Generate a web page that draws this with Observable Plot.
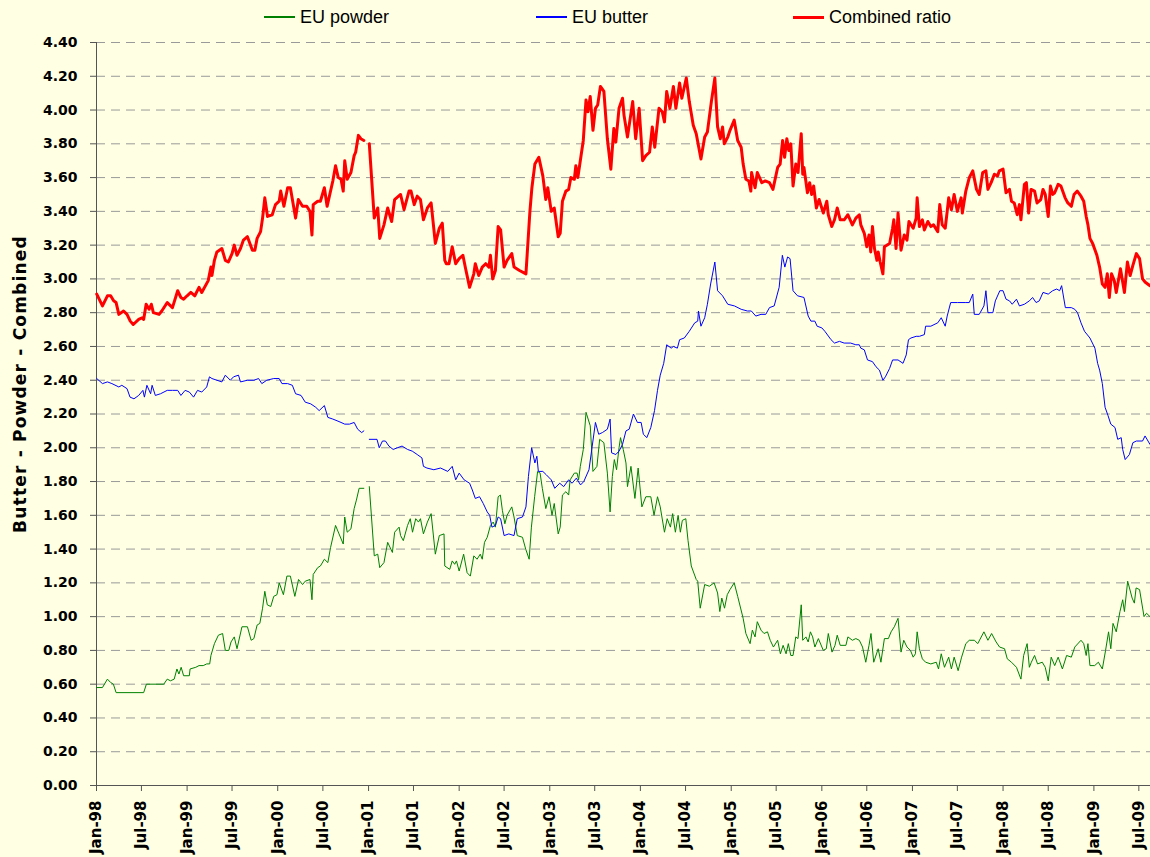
<!DOCTYPE html>
<html><head><meta charset="utf-8">
<script src="https://cdn.jsdelivr.net/npm/d3@7"></script>
<script src="https://cdn.jsdelivr.net/npm/@observablehq/plot@0.6"></script>
<style>
body{margin:0;background:#FFFFE3;width:1150px;height:857px;overflow:hidden;font-family:"Liberation Sans",Arial,sans-serif}
#legend{position:relative;height:34px}
.item{position:absolute;top:7px;font-size:18px;line-height:20px;display:flex;align-items:center;color:#000;white-space:nowrap}
.swatch{display:inline-block;width:31px;margin-right:5px}
#chart svg{display:block}
#chart g[aria-label="text"] text{letter-spacing:1.2px}
</style></head><body>
<div id="legend"></div><div id="chart"></div>
<script>
const seriesNames = ["EU powder", "EU butter", "Combined ratio"];
const seriesColors = ["#008000", "#0000FF", "#FF0000"];
const seriesWidths = [1, 1, 3];
const yTicks = [0.00,0.20,0.40,0.60,0.80,1.00,1.20,1.40,1.60,1.80,2.00,2.20,2.40,2.60,2.80,3.00,3.20,3.40,3.60,3.80,4.00,4.20,4.40];
const xTickLabels = ["Jan-98","Jul-98","Jan-99","Jul-99","Jan-00","Jul-00","Jan-01","Jul-01","Jan-02","Jul-02","Jan-03","Jul-03","Jan-04","Jul-04","Jan-05","Jul-05","Jan-06","Jul-06","Jan-07","Jul-07","Jan-08","Jul-08","Jan-09","Jul-09"];
const xDomain = ["1998-01-01", "2009-08-17"];
const yAxisTitle = "Butter - Powder - Combined";

const combined = [
["1998-01-02",2.91],["1998-01-25",2.84],["1998-02-14",2.90],["1998-02-27",2.90],["1998-03-11",2.87],["1998-03-21",2.86],["1998-04-01",2.79],["1998-04-20",2.81],["1998-05-04",2.79],["1998-05-17",2.75],["1998-05-29",2.73],["1998-06-20",2.76],["1998-07-04",2.77],["1998-07-10",2.76],["1998-07-20",2.85],["1998-08-01",2.82],["1998-08-10",2.85],["1998-08-18",2.80],["1998-09-10",2.79],["1998-09-21",2.81],["1998-10-13",2.86],["1998-11-03",2.83],["1998-11-24",2.93],["1998-12-07",2.89],["1998-12-18",2.88],
["1999-01-01",2.90],["1999-01-16",2.92],["1999-02-01",2.90],["1999-02-18",2.95],["1999-03-01",2.92],["1999-03-27",2.99],["1999-04-07",3.07],["1999-04-11",3.02],["1999-04-21",3.11],["1999-05-01",3.16],["1999-05-21",3.18],["1999-06-04",3.11],["1999-06-16",3.10],["1999-07-01",3.15],["1999-07-10",3.20],["1999-07-21",3.14],["1999-08-04",3.18],["1999-08-16",3.23],["1999-09-01",3.25],["1999-09-21",3.17],["1999-10-01",3.17],["1999-10-10",3.24],["1999-10-24",3.28],["1999-11-01",3.36],["1999-11-10",3.48],["1999-11-21",3.37],["1999-12-10",3.38],["1999-12-23",3.44],
["2000-01-07",3.46],["2000-01-13",3.52],["2000-01-26",3.43],["2000-02-10",3.54],["2000-02-21",3.54],["2000-03-13",3.36],["2000-03-24",3.47],["2000-04-10",3.43],["2000-04-27",3.43],["2000-05-10",3.40],["2000-05-18",3.26],["2000-05-23",3.44],["2000-06-10",3.46],["2000-06-21",3.46],["2000-07-07",3.54],["2000-07-18",3.43],["2000-08-10",3.58],["2000-08-21",3.67],["2000-09-01",3.60],["2000-09-12",3.59],["2000-09-21",3.52],["2000-09-27",3.70],["2000-10-07",3.59],["2000-10-22",3.63],["2000-11-04",3.73],["2000-11-10",3.75],["2000-11-21",3.85],["2000-12-01",3.83],["2000-12-13",3.82],["2000-12-25",null],
["2001-01-04",3.80],["2001-01-24",3.36],["2001-02-07",3.42],["2001-02-15",3.24],["2001-03-04",3.32],["2001-03-19",3.42],["2001-04-04",3.34],["2001-04-16",3.47],["2001-05-10",3.50],["2001-05-24",3.41],["2001-06-13",3.52],["2001-06-21",3.52],["2001-07-04",3.44],["2001-07-16",3.49],["2001-07-29",3.47],["2001-08-10",3.35],["2001-08-26",3.42],["2001-09-10",3.45],["2001-09-27",3.21],["2001-10-13",3.30],["2001-10-25",3.33],["2001-11-04",3.11],["2001-11-10",3.09],["2001-11-21",3.09],["2001-12-04",3.19],["2001-12-18",3.09],
["2002-01-01",3.12],["2002-01-16",3.14],["2002-01-27",3.06],["2002-02-12",2.95],["2002-03-01",3.03],["2002-03-07",3.09],["2002-03-21",3.02],["2002-04-04",3.07],["2002-04-18",3.09],["2002-05-01",3.07],["2002-05-07",3.14],["2002-05-16",3.00],["2002-05-27",3.05],["2002-06-07",3.31],["2002-06-17",3.29],["2002-07-01",3.07],["2002-07-13",3.11],["2002-08-01",3.15],["2002-08-10",3.07],["2002-09-01",3.05],["2002-09-27",3.03],["2002-10-13",3.40],["2002-10-21",3.54],["2002-11-02",3.68],["2002-11-18",3.72],["2002-12-04",3.61],["2002-12-16",3.47],["2002-12-24",3.54],
["2003-01-07",3.40],["2003-01-19",3.42],["2003-02-04",3.25],["2003-02-12",3.27],["2003-02-21",3.46],["2003-03-07",3.52],["2003-03-18",3.53],["2003-03-27",3.60],["2003-04-10",3.59],["2003-04-16",3.67],["2003-04-24",3.60],["2003-05-04",3.70],["2003-05-16",3.82],["2003-05-27",4.06],["2003-06-04",3.99],["2003-06-13",4.08],["2003-06-24",3.88],["2003-07-04",4.01],["2003-07-13",4.03],["2003-07-24",4.14],["2003-08-07",4.11],["2003-08-21",3.83],["2003-09-04",3.65],["2003-09-16",3.89],["2003-09-24",3.81],["2003-10-07",4.01],["2003-10-21",4.07],["2003-10-27",3.97],["2003-11-10",3.84],["2003-12-01",4.05],["2003-12-13",3.83],["2003-12-27",4.01],
["2004-01-10",3.70],["2004-01-23",3.73],["2004-02-07",3.75],["2004-02-18",3.90],["2004-02-28",3.78],["2004-03-16",4.01],["2004-03-29",3.99],["2004-04-07",3.93],["2004-04-16",4.11],["2004-04-29",4.01],["2004-05-13",4.14],["2004-05-23",4.01],["2004-06-07",4.16],["2004-06-16",4.07],["2004-07-04",4.19],["2004-07-16",4.05],["2004-08-01",3.91],["2004-08-13",3.86],["2004-09-01",3.71],["2004-09-16",3.84],["2004-09-27",3.87],["2004-10-13",4.05],["2004-10-27",4.19],["2004-11-07",3.90],["2004-11-18",3.83],["2004-11-27",3.90],["2004-12-04",3.80],["2004-12-18",3.84],["2004-12-27",3.88],
["2005-01-13",3.94],["2005-01-27",3.82],["2005-02-10",3.78],["2005-02-18",3.68],["2005-03-01",3.59],["2005-03-13",3.58],["2005-03-21",3.52],["2005-03-24",3.63],["2005-04-07",3.54],["2005-04-16",3.63],["2005-05-04",3.57],["2005-05-18",3.58],["2005-06-04",3.57],["2005-06-18",3.53],["2005-07-07",3.66],["2005-07-17",3.68],["2005-07-27",3.82],["2005-08-04",3.72],["2005-08-13",3.83],["2005-08-21",3.76],["2005-08-29",3.80],["2005-09-07",3.55],["2005-09-18",3.68],["2005-09-27",3.63],["2005-10-10",3.86],["2005-10-16",3.62],["2005-10-21",3.66],["2005-11-04",3.51],["2005-11-13",3.57],["2005-11-21",3.50],["2005-11-29",3.55],["2005-12-10",3.42],["2005-12-21",3.47],
["2006-01-07",3.39],["2006-01-21",3.46],["2006-01-27",3.38],["2006-02-10",3.31],["2006-02-21",3.35],["2006-03-04",3.42],["2006-03-16",3.35],["2006-04-01",3.35],["2006-04-16",3.38],["2006-05-04",3.32],["2006-05-18",3.36],["2006-06-01",3.38],["2006-06-07",3.32],["2006-06-21",3.27],["2006-07-01",3.19],["2006-07-10",3.26],["2006-07-17",3.16],["2006-07-24",3.31],["2006-08-01",3.18],["2006-08-11",3.11],["2006-08-16",3.16],["2006-08-24",3.10],["2006-09-04",3.03],["2006-09-10",3.19],["2006-10-01",3.21],["2006-10-13",3.30],["2006-10-18",3.35],["2006-10-27",3.18],["2006-11-04",3.39],["2006-11-16",3.17],["2006-11-29",3.26],["2006-12-10",3.23],["2006-12-18",3.34],
["2007-01-04",3.30],["2007-01-16",3.36],["2007-01-20",3.48],["2007-01-29",3.31],["2007-02-10",3.35],["2007-02-18",3.29],["2007-03-04",3.34],["2007-03-16",3.31],["2007-03-27",3.32],["2007-04-13",3.28],["2007-04-21",3.44],["2007-05-01",3.32],["2007-05-13",3.30],["2007-05-21",3.40],["2007-05-27",3.48],["2007-06-07",3.41],["2007-06-18",3.50],["2007-07-01",3.40],["2007-07-16",3.48],["2007-07-21",3.39],["2007-08-04",3.52],["2007-08-18",3.60],["2007-09-01",3.64],["2007-09-16",3.53],["2007-09-27",3.50],["2007-10-11",3.63],["2007-10-24",3.64],["2007-11-01",3.53],["2007-11-14",3.57],["2007-11-27",3.62],["2007-12-10",3.61],["2007-12-17",3.64],
["2008-01-01",3.65],["2008-01-13",3.51],["2008-01-27",3.53],["2008-02-04",3.46],["2008-02-15",3.45],["2008-02-27",3.38],["2008-03-07",3.44],["2008-03-13",3.35],["2008-03-27",3.56],["2008-04-04",3.57],["2008-04-13",3.39],["2008-04-23",3.53],["2008-05-07",3.52],["2008-05-17",3.45],["2008-06-01",3.47],["2008-06-10",3.53],["2008-06-19",3.50],["2008-07-01",3.37],["2008-07-10",3.55],["2008-07-19",3.50],["2008-07-27",3.51],["2008-08-10",3.56],["2008-08-21",3.55],["2008-09-07",3.48],["2008-09-18",3.45],["2008-10-02",3.43],["2008-10-13",3.50],["2008-10-26",3.52],["2008-11-10",3.49],["2008-11-21",3.46],["2008-12-01",3.37],["2008-12-08",3.32],["2008-12-16",3.24],["2008-12-27",3.21],
["2009-01-13",3.14],["2009-01-24",3.07],["2009-02-04",2.97],["2009-02-15",2.95],["2009-02-24",3.03],["2009-03-04",2.89],["2009-03-13",3.03],["2009-03-24",2.99],["2009-04-01",2.92],["2009-04-18",3.06],["2009-05-04",2.92],["2009-05-16",3.10],["2009-05-27",3.02],["2009-06-07",3.08],["2009-06-21",3.15],["2009-07-04",3.12],["2009-07-16",3.00],["2009-07-27",2.98],["2009-08-15",2.96]
];

const butter = [
["1998-01-02",2.41],["1998-01-25",2.38],["1998-02-14",2.39],["1998-03-04",2.38],["1998-04-01",2.36],["1998-04-13",2.37],["1998-05-04",2.35],["1998-05-16",2.30],["1998-06-01",2.29],["1998-06-20",2.31],["1998-07-07",2.34],["1998-07-13",2.30],["1998-07-23",2.37],["1998-08-07",2.32],["1998-08-13",2.37],["1998-08-26",2.31],["1998-09-16",2.32],["1998-10-13",2.34],["1998-11-03",2.34],["1998-11-24",2.34],["1998-12-07",2.31],["1998-12-24",2.34],
["1999-01-10",2.33],["1999-01-27",2.30],["1999-02-12",2.34],["1999-03-01",2.33],["1999-03-21",2.36],["1999-04-01",2.42],["1999-04-11",2.41],["1999-05-01",2.40],["1999-05-21",2.39],["1999-06-04",2.43],["1999-06-24",2.40],["1999-07-07",2.42],["1999-07-27",2.43],["1999-08-04",2.39],["1999-09-01",2.40],["1999-09-27",2.40],["1999-10-16",2.41],["1999-10-29",2.38],["1999-11-18",2.40],["1999-12-16",2.41],
["2000-01-07",2.41],["2000-01-18",2.38],["2000-02-10",2.38],["2000-02-29",2.37],["2000-03-13",2.32],["2000-04-04",2.31],["2000-04-21",2.27],["2000-05-13",2.26],["2000-06-02",2.24],["2000-06-16",2.22],["2000-07-07",2.25],["2000-07-21",2.18],["2000-08-10",2.17],["2000-08-27",2.16],["2000-09-12",2.15],["2000-09-27",2.14],["2000-10-16",2.14],["2000-11-04",2.15],["2000-11-18",2.11],["2000-12-04",2.09],["2000-12-13",2.10],["2000-12-25",null],
["2001-01-04",2.05],["2001-02-04",2.05],["2001-02-13",2.00],["2001-02-26",2.04],["2001-03-10",2.04],["2001-03-24",2.01],["2001-04-10",1.99],["2001-04-27",2.00],["2001-05-16",2.01],["2001-06-07",1.99],["2001-06-26",1.98],["2001-07-16",1.96],["2001-08-04",1.94],["2001-08-10",1.89],["2001-08-24",1.88],["2001-09-21",1.87],["2001-10-18",1.88],["2001-11-16",1.86],["2001-12-04",1.89],["2001-12-18",1.81],
["2002-01-01",1.85],["2002-01-21",1.81],["2002-02-12",1.79],["2002-02-23",1.75],["2002-03-07",1.70],["2002-03-24",1.71],["2002-04-08",1.67],["2002-04-24",1.62],["2002-05-04",1.60],["2002-05-13",1.53],["2002-05-27",1.54],["2002-06-07",1.59],["2002-06-17",1.58],["2002-07-01",1.48],["2002-07-20",1.49],["2002-08-10",1.48],["2002-08-23",1.58],["2002-09-13",1.59],["2002-09-27",1.65],["2002-10-07",1.83],["2002-10-20",2.00],["2002-11-02",1.91],["2002-11-10",1.95],["2002-11-16",1.86],["2002-12-04",1.86],["2002-12-18",1.84],
["2003-01-07",1.81],["2003-01-21",1.76],["2003-02-10",1.79],["2003-02-26",1.77],["2003-03-18",1.81],["2003-04-01",1.79],["2003-04-18",1.82],["2003-05-05",1.78],["2003-05-18",1.80],["2003-06-08",1.87],["2003-06-21",2.01],["2003-07-04",2.15],["2003-07-17",2.08],["2003-08-01",2.09],["2003-08-21",2.11],["2003-09-01",2.17],["2003-09-07",1.97],["2003-09-24",1.96],["2003-10-07",1.98],["2003-10-21",2.02],["2003-11-04",2.10],["2003-11-17",2.11],["2003-12-04",2.20],["2003-12-20",2.15],
["2004-01-04",2.15],["2004-01-13",2.08],["2004-01-27",2.06],["2004-02-12",2.12],["2004-02-27",2.22],["2004-03-10",2.34],["2004-03-21",2.43],["2004-04-04",2.50],["2004-04-16",2.61],["2004-05-04",2.59],["2004-05-13",2.60],["2004-05-29",2.59],["2004-06-07",2.64],["2004-06-26",2.65],["2004-07-16",2.69],["2004-08-07",2.74],["2004-08-19",2.75],["2004-08-22",2.81],["2004-09-01",2.72],["2004-09-16",2.77],["2004-09-27",2.85],["2004-10-10",2.97],["2004-10-27",3.10],["2004-11-07",2.93],["2004-11-27",2.90],["2004-12-18",2.85],
["2005-01-14",2.84],["2005-02-10",2.82],["2005-03-07",2.81],["2005-03-23",2.81],["2005-04-10",2.78],["2005-05-01",2.79],["2005-05-20",2.79],["2005-06-04",2.83],["2005-06-23",2.84],["2005-07-13",2.95],["2005-07-26",3.14],["2005-08-05",3.07],["2005-08-16",3.13],["2005-08-26",3.12],["2005-09-07",2.93],["2005-09-25",2.90],["2005-10-21",2.89],["2005-11-07",2.78],["2005-11-18",2.75],["2005-12-04",2.75],["2005-12-13",2.72],
["2006-01-01",2.71],["2006-01-13",2.69],["2006-02-07",2.64],["2006-02-21",2.62],["2006-03-13",2.63],["2006-04-01",2.62],["2006-04-27",2.62],["2006-05-18",2.61],["2006-06-01",2.61],["2006-06-07",2.59],["2006-06-21",2.58],["2006-07-04",2.52],["2006-07-24",2.51],["2006-08-07",2.48],["2006-08-21",2.46],["2006-09-04",2.40],["2006-09-14",2.42],["2006-10-01",2.47],["2006-10-13",2.52],["2006-11-04",2.52],["2006-11-24",2.50],["2006-12-07",2.55],["2006-12-16",2.64],["2006-12-26",2.65],
["2007-01-16",2.66],["2007-01-29",2.66],["2007-02-18",2.67],["2007-02-23",2.72],["2007-03-16",2.72],["2007-04-13",2.74],["2007-04-27",2.77],["2007-05-13",2.72],["2007-05-21",2.78],["2007-06-04",2.86],["2007-07-01",2.86],["2007-08-04",2.86],["2007-08-18",2.86],["2007-09-01",2.91],["2007-09-07",2.79],["2007-09-27",2.79],["2007-10-16",2.84],["2007-10-24",2.93],["2007-11-01",2.80],["2007-11-21",2.80],["2007-12-01",2.87],["2007-12-19",2.93],
["2008-01-01",2.93],["2008-01-13",2.88],["2008-01-27",2.87],["2008-02-07",2.85],["2008-02-24",2.88],["2008-03-07",2.84],["2008-03-27",2.85],["2008-04-16",2.87],["2008-04-29",2.89],["2008-05-13",2.86],["2008-05-26",2.87],["2008-06-10",2.92],["2008-07-01",2.91],["2008-07-19",2.93],["2008-08-04",2.94],["2008-08-16",2.93],["2008-08-24",2.96],["2008-09-08",2.83],["2008-10-02",2.83],["2008-10-16",2.82],["2008-10-27",2.80],["2008-11-10",2.74],["2008-11-24",2.69],["2008-12-16",2.65],
["2009-01-05",2.59],["2009-01-16",2.50],["2009-01-24",2.46],["2009-02-04",2.38],["2009-02-15",2.24],["2009-02-27",2.19],["2009-03-10",2.14],["2009-03-27",2.12],["2009-04-07",2.05],["2009-04-21",2.06],["2009-04-27",1.99],["2009-05-07",1.93],["2009-05-24",1.96],["2009-06-07",2.03],["2009-06-21",2.04],["2009-07-16",2.04],["2009-07-26",2.07],["2009-08-07",2.04],["2009-08-15",2.02]
];

const powder = [
["1998-01-02",0.58],["1998-01-25",0.58],["1998-02-14",0.63],["1998-02-27",0.61],["1998-03-10",0.60],["1998-03-21",0.55],["1998-07-10",0.55],["1998-07-21",0.60],["1998-09-29",0.60],["1998-10-13",0.63],["1998-10-26",0.62],["1998-11-10",0.63],["1998-11-21",0.69],["1998-11-29",0.66],["1998-12-08",0.70],["1998-12-18",0.65],
["1999-01-10",0.65],["1999-01-13",0.69],["1999-02-05",0.70],["1999-02-18",0.71],["1999-03-07",0.71],["1999-03-21",0.72],["1999-04-02",0.72],["1999-04-07",0.77],["1999-04-21",0.84],["1999-05-07",0.89],["1999-05-24",0.90],["1999-06-04",0.80],["1999-06-18",0.80],["1999-06-27",0.85],["1999-07-10",0.88],["1999-07-21",0.81],["1999-08-10",0.94],["1999-09-01",0.94],["1999-09-16",0.86],["1999-09-27",0.87],["1999-10-10",0.95],["1999-10-21",0.96],["1999-11-01",1.05],["1999-11-10",1.15],["1999-11-20",1.07],["1999-12-04",1.06],["1999-12-16",1.12],["1999-12-29",1.13],
["2000-01-07",1.20],["2000-01-24",1.13],["2000-02-07",1.24],["2000-02-21",1.24],["2000-03-10",1.12],["2000-03-25",1.22],["2000-04-10",1.19],["2000-04-21",1.21],["2000-05-10",1.22],["2000-05-18",1.10],["2000-05-23",1.25],["2000-06-10",1.29],["2000-06-21",1.30],["2000-07-07",1.34],["2000-07-21",1.32],["2000-08-01",1.41],["2000-08-21",1.54],["2000-09-04",1.49],["2000-09-21",1.43],["2000-09-27",1.59],["2000-10-07",1.50],["2000-10-22",1.52],["2000-11-04",1.64],["2000-11-13",1.69],["2000-11-24",1.76],["2000-12-13",1.76],["2000-12-25",null],
["2001-01-04",1.77],["2001-01-24",1.36],["2001-02-07",1.37],["2001-02-15",1.29],["2001-03-04",1.32],["2001-03-19",1.44],["2001-04-07",1.38],["2001-04-16",1.50],["2001-05-04",1.53],["2001-05-10",1.48],["2001-05-21",1.45],["2001-06-07",1.54],["2001-06-18",1.58],["2001-06-27",1.50],["2001-07-10",1.58],["2001-07-21",1.56],["2001-07-29",1.58],["2001-08-10",1.49],["2001-08-26",1.56],["2001-09-10",1.61],["2001-09-27",1.37],["2001-10-13",1.48],["2001-11-01",1.49],["2001-11-04",1.30],["2001-11-24",1.28],["2001-12-04",1.33],["2001-12-14",1.31],["2001-12-21",1.33],
["2002-01-01",1.27],["2002-01-19",1.37],["2002-02-02",1.26],["2002-02-15",1.24],["2002-03-01",1.36],["2002-03-14",1.34],["2002-03-27",1.37],["2002-04-04",1.34],["2002-04-13",1.44],["2002-04-24",1.47],["2002-05-07",1.54],["2002-05-18",1.56],["2002-05-27",1.53],["2002-06-07",1.71],["2002-06-16",1.72],["2002-06-24",1.63],["2002-07-04",1.55],["2002-07-13",1.60],["2002-08-01",1.65],["2002-08-10",1.59],["2002-08-23",1.48],["2002-09-13",1.47],["2002-09-26",1.40],["2002-10-10",1.34],["2002-10-19",1.53],["2002-11-01",1.71],["2002-11-13",1.86],["2002-11-23",1.85],["2002-12-02",1.76],["2002-12-16",1.64],["2002-12-29",1.71],
["2003-01-10",1.60],["2003-01-19",1.67],["2003-02-04",1.49],["2003-02-12",1.53],["2003-02-21",1.72],["2003-03-07",1.74],["2003-03-18",1.72],["2003-03-24",1.81],["2003-04-10",1.85],["2003-04-21",1.85],["2003-04-27",1.81],["2003-05-04",1.89],["2003-05-16",1.99],["2003-05-27",2.21],["2003-06-13",2.13],["2003-06-24",1.86],["2003-07-10",1.89],["2003-07-21",2.05],["2003-08-07",2.03],["2003-08-21",1.85],["2003-09-01",1.62],["2003-09-10",1.83],["2003-09-18",1.93],["2003-09-27",1.87],["2003-10-07",2.00],["2003-10-13",2.06],["2003-10-24",1.99],["2003-11-04",1.91],["2003-11-10",1.77],["2003-11-24",1.89],["2003-12-10",1.70],["2003-12-23",1.88],
["2004-01-07",1.65],["2004-01-23",1.71],["2004-02-12",1.71],["2004-02-25",1.60],["2004-03-10",1.71],["2004-03-21",1.65],["2004-04-07",1.50],["2004-04-18",1.58],["2004-05-01",1.53],["2004-05-10",1.61],["2004-05-21",1.50],["2004-06-01",1.60],["2004-06-10",1.50],["2004-06-18",1.57],["2004-07-02",1.58],["2004-07-11",1.45],["2004-07-24",1.30],["2004-08-13",1.22],["2004-08-19",1.21],["2004-08-29",1.05],["2004-09-16",1.19],["2004-10-05",1.18],["2004-10-24",1.20],["2004-11-07",1.14],["2004-11-16",1.03],["2004-11-24",1.11],["2004-12-05",1.05],["2004-12-16",1.13],["2004-12-27",1.16],
["2005-01-13",1.20],["2005-01-27",1.12],["2005-02-18",0.99],["2005-03-01",0.90],["2005-03-18",0.84],["2005-03-27",0.92],["2005-04-07",0.88],["2005-04-16",0.97],["2005-05-01",0.92],["2005-05-13",0.90],["2005-05-27",0.91],["2005-06-07",0.86],["2005-06-20",0.82],["2005-07-07",0.86],["2005-07-18",0.78],["2005-07-29",0.83],["2005-08-10",0.78],["2005-08-19",0.84],["2005-08-29",0.77],["2005-09-07",0.77],["2005-09-18",0.88],["2005-09-27",0.87],["2005-10-10",1.07],["2005-10-16",0.86],["2005-10-29",0.88],["2005-11-07",0.85],["2005-11-16",0.91],["2005-11-25",0.88],["2005-12-04",0.82],["2005-12-18",0.87],
["2006-01-07",0.80],["2006-01-19",0.81],["2006-01-27",0.90],["2006-02-11",0.79],["2006-02-23",0.83],["2006-03-04",0.89],["2006-03-16",0.83],["2006-04-08",0.83],["2006-04-16",0.88],["2006-05-04",0.86],["2006-05-18",0.87],["2006-06-01",0.86],["2006-06-14",0.82],["2006-06-27",0.73],["2006-07-10",0.83],["2006-07-18",0.90],["2006-07-29",0.73],["2006-08-16",0.81],["2006-08-27",0.73],["2006-09-10",0.87],["2006-09-26",0.87],["2006-10-07",0.91],["2006-10-20",0.94],["2006-11-04",0.99],["2006-11-16",0.79],["2006-11-27",0.86],["2006-12-10",0.82],["2006-12-24",0.80],
["2007-01-04",0.76],["2007-01-13",0.78],["2007-01-20",0.91],["2007-01-29",0.81],["2007-02-10",0.75],["2007-02-23",0.73],["2007-03-16",0.72],["2007-04-07",0.73],["2007-04-16",0.69],["2007-04-27",0.78],["2007-05-10",0.70],["2007-05-27",0.76],["2007-06-07",0.69],["2007-06-18",0.76],["2007-07-04",0.68],["2007-07-18",0.76],["2007-08-04",0.84],["2007-08-18",0.86],["2007-09-08",0.86],["2007-09-21",0.84],["2007-10-16",0.91],["2007-11-01",0.86],["2007-11-16",0.90],["2007-12-04",0.85],["2007-12-18",0.82],
["2008-01-07",0.81],["2008-01-18",0.75],["2008-02-04",0.73],["2008-02-24",0.70],["2008-03-13",0.63],["2008-03-24",0.77],["2008-04-07",0.84],["2008-04-16",0.70],["2008-04-24",0.73],["2008-05-07",0.77],["2008-05-19",0.72],["2008-06-07",0.73],["2008-06-19",0.70],["2008-07-01",0.62],["2008-07-13",0.76],["2008-07-27",0.71],["2008-08-10",0.76],["2008-08-27",0.69],["2008-09-13",0.77],["2008-10-02",0.76],["2008-10-16",0.82],["2008-11-10",0.86],["2008-11-21",0.84],["2008-12-01",0.77],["2008-12-08",0.84],["2008-12-16",0.71],
["2009-01-04",0.71],["2009-01-19",0.73],["2009-02-04",0.69],["2009-02-17",0.80],["2009-03-01",0.91],["2009-03-10",0.81],["2009-03-19",0.96],["2009-04-01",0.91],["2009-04-16",1.03],["2009-04-27",1.10],["2009-05-04",1.03],["2009-05-17",1.21],["2009-06-04",1.11],["2009-06-13",1.08],["2009-06-20",1.17],["2009-07-04",1.16],["2009-07-22",1.00],["2009-08-01",1.02],["2009-08-15",1.00]
];

const toRows = (arr) => arr.map(([d, v]) => ({date: new Date(d + "T00:00:00Z"), value: v}));
const seriesData = [toRows(powder), toRows(butter), toRows(combined)];
const parseTick = d3.utcParse("%b-%y");
const xTicks = xTickLabels.map(parseTick);
const x0 = new Date(xDomain[0] + "T00:00:00Z");
const x1 = new Date(xDomain[1] + "T00:00:00Z");

// legend
const legend = document.getElementById("legend");
const legendLeft = [264, 536, 793];
seriesNames.forEach((name, i) => {
  const it = document.createElement("div");
  it.className = "item";
  it.style.left = legendLeft[i] + "px";
  const sw = document.createElement("span");
  sw.className = "swatch";
  sw.style.height = (seriesWidths[i] === 3 ? 3 : 1.5) + "px";
  sw.style.background = seriesColors[i];
  it.appendChild(sw);
  it.appendChild(document.createTextNode(name));
  legend.appendChild(it);
});

const chart = Plot.plot({
  width: 1150,
  height: 823,
  marginLeft: 96,
  marginRight: 0,
  marginTop: 8,
  marginBottom: 72,
  style: {background: "transparent", fontFamily: "'DejaVu Sans', Verdana, sans-serif", fontWeight: "bold", fontSize: "14px", color: "#000", overflow: "visible"},
  x: {type: "utc", domain: [x0, x1]},
  y: {domain: [0, 4.4]},
  marks: [
    Plot.gridY(yTicks.filter(d => d > 0), {stroke: "#9a9a9a", strokeOpacity: 1, strokeDasharray: "9,6"}),
    Plot.ruleY([0], {stroke: "#555"}),
    Plot.ruleX([x0], {stroke: "#555"}),
    Plot.axisY({ticks: yTicks, tickFormat: d => d.toFixed(2), tickSize: 6, tickPadding: 13, label: null, stroke: "#555", fill: "#000"}),
    Plot.axisX({ticks: xTicks, tickFormat: d3.utcFormat("%b-%y"), tickRotate: -90, tickSize: 6, tickPadding: 9, label: null, stroke: "#555", fill: "#000", fontSize: 15}),
    Plot.text([yAxisTitle], {frameAnchor: "left", textAnchor: "middle", rotate: -90, dx: -76, dy: -30, fontSize: 17, fontWeight: "bold", fill: "#000"}),
    ...seriesData.map((rows, i) => Plot.line(rows, {x: "date", y: "value", stroke: seriesColors[i], strokeWidth: seriesWidths[i], strokeLinejoin: "round", curve: "linear"}))
  ]
});
document.getElementById("chart").appendChild(chart);
</script>
</body></html>
